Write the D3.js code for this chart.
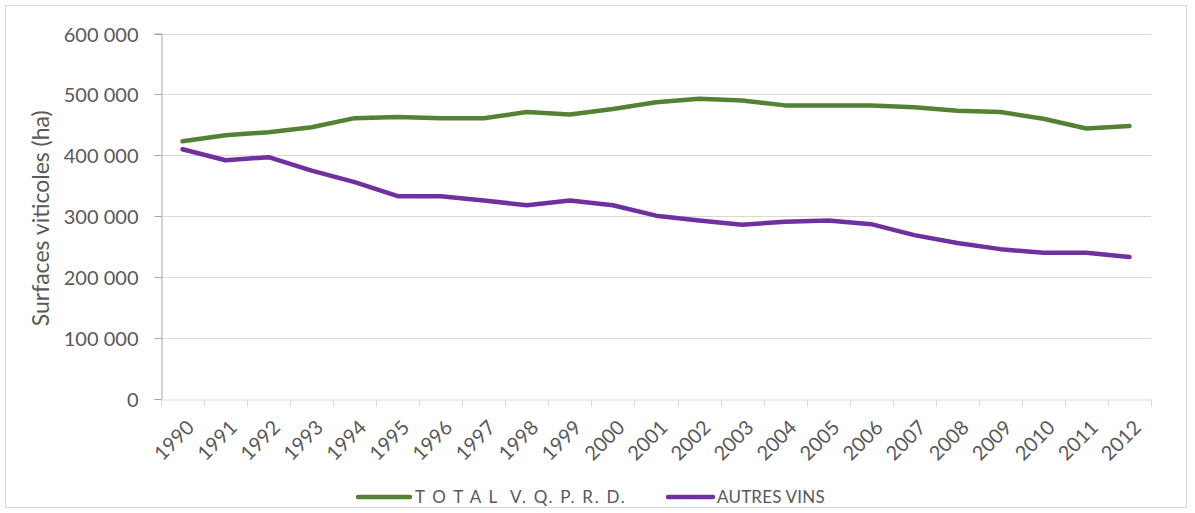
<!DOCTYPE html>
<html><head><meta charset="utf-8">
<script src="https://cdn.jsdelivr.net/npm/d3@7"></script>
<style>html,body{margin:0;padding:0;background:#fff;} svg{display:block;}</style>
</head><body>
<script>
const years = ["1990","1991","1992","1993","1994","1995","1996","1997","1998","1999","2000","2001","2002","2003","2004","2005","2006","2007","2008","2009","2010","2011","2012"];
const totalVQPRD = [423000,433000,438000,446000,461000,463000,461000,461000,471000,467000,476000,487000,493000,490000,482000,482000,482000,479000,473000,471000,460000,444000,448000];
const autresVins = [410000,392000,397000,375000,356000,333000,333000,326000,318000,326000,318000,301000,293000,286000,291000,293000,287000,269000,256000,246000,240000,240000,233000];
const yTicks = [0,100000,200000,300000,400000,500000,600000];
const seriesNames = ["T O T A L  V. Q. P. R. D.", "AUTRES VINS"];
const seriesColors = ["#548235", "#7030a0"];

(function(){
const W = 1195, H = 513;
const svg = d3.select("body").append("svg").attr("width", W).attr("height", H);
const font = "Lato, 'Open Sans', sans-serif";
const textColor = "#595959";

svg.append("rect").attr("x", 5.5).attr("y", 5.5).attr("width", 1181).attr("height", 502)
  .attr("fill", "#fff").attr("stroke", "#d9d9d9").attr("stroke-width", 1);

const pLeft = 161, pRight = 1151, pTop = 33.5, pBottom = 399;
const x = d3.scaleBand().domain(years).range([pLeft, pRight]);
const y = d3.scaleLinear().domain([0, 600000]).range([pBottom, pTop]);

// gridlines
svg.append("g").selectAll("line").data(yTicks.filter(d => d > 0)).join("line")
  .attr("x1", pLeft).attr("x2", pRight)
  .attr("y1", d => Math.round(y(d)) + 0.5).attr("y2", d => Math.round(y(d)) + 0.5)
  .attr("stroke", "#d9d9d9").attr("stroke-width", 1);

// y axis
const fmt = d => d3.format(",")(d).replace(/,/g, " ");
const yAxis = svg.append("g").attr("transform", `translate(${pLeft + 0.5},0)`)
  .call(d3.axisLeft(y).tickValues(yTicks).tickFormat(fmt).tickSize(7).tickPadding(16));
yAxis.select(".domain").attr("stroke", "#a6a6a6");
yAxis.selectAll(".tick line").attr("stroke", "#a6a6a6");
yAxis.selectAll(".tick").attr("transform", d => `translate(0,${Math.round(y(d)) + 0.5})`);
yAxis.selectAll("text").attr("fill", textColor).style("font-family", font).style("font-size", "20px").attr("dy", "0.35em");

// x axis
const xAxis = svg.append("g").attr("transform", `translate(0,${pBottom + 0.5})`)
  .call(d3.axisBottom(x).tickSize(0).tickFormat(""));
xAxis.select(".domain").attr("stroke", "#d9d9d9");
xAxis.selectAll(".tick").remove();
const boundaries = years.map(d => x(d)).concat([pRight]);
xAxis.selectAll("line.tk").data(boundaries).join("line").attr("class", "tk")
  .attr("x1", d => Math.round(d) + 0.5).attr("x2", d => Math.round(d) + 0.5)
  .attr("y1", 0).attr("y2", 7).attr("stroke", "#d9d9d9");

// x labels rotated
svg.append("g").selectAll("text").data(years).join("text")
  .attr("transform", d => `translate(${x(d) + x.bandwidth() / 2 + 3},${pBottom + 20}) rotate(-45)`)
  .attr("text-anchor", "end").attr("dy", "0.7em")
  .attr("fill", textColor).style("font-family", font).style("font-size", "20px")
  .text(d => d);

// y title
svg.append("text")
  .attr("transform", `translate(49,${(pTop + pBottom) / 2 + 2}) rotate(-90)`)
  .attr("text-anchor", "middle")
  .attr("fill", textColor).style("font-family", font).style("font-size", "23px")
  .text("Surfaces viticoles (ha)");

// lines
const line = d3.line().x((d, i) => x(years[i]) + x.bandwidth() / 2).y(d => y(d));
[totalVQPRD, autresVins].forEach((s, k) => {
  svg.append("path").datum(s).attr("d", line).attr("fill", "none")
    .attr("stroke", seriesColors[k]).attr("stroke-width", 4.5)
    .attr("stroke-linejoin", "round").attr("stroke-linecap", "round");
});

// legend
const legendItems = [
  {x1: 358, x2: 410, tx: 415, name: seriesNames[0], color: seriesColors[0], ls: "1.7px"},
  {x1: 668, x2: 713, tx: 717, name: seriesNames[1], color: seriesColors[1], ls: "0.2px"}
];
const ly = 497;
legendItems.forEach(it => {
  svg.append("line").attr("x1", it.x1).attr("x2", it.x2).attr("y1", ly).attr("y2", ly)
    .attr("stroke", it.color).attr("stroke-width", 4.5).attr("stroke-linecap", "round");
  svg.append("text").attr("x", it.tx).attr("y", ly).attr("dy", "0.36em")
    .attr("fill", textColor).style("font-family", font).style("font-size", "17px")
    .style("letter-spacing", it.ls).style("white-space", "pre")
    .text(it.name);
});
})();
</script>
</body></html>
